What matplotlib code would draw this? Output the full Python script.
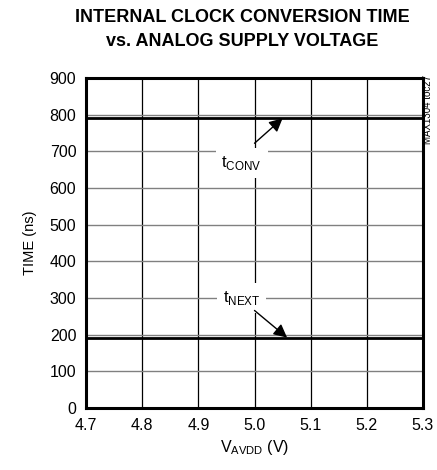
import numpy as np
import matplotlib
matplotlib.use('Agg')
import matplotlib.pyplot as plt

plt.rcParams['font.family'] = ['Liberation Sans Narrow', 'Liberation Sans', 'DejaVu Sans']

# data
vavdd = [4.7, 4.8, 4.9, 5.0, 5.1, 5.2, 5.3]
t_conv = [792, 792, 792, 792, 792, 792, 792]
t_next = [191, 191, 191, 191, 191, 191, 191]
x_ticks = [4.7, 4.8, 4.9, 5.0, 5.1, 5.2, 5.3]
y_ticks = [0, 100, 200, 300, 400, 500, 600, 700, 800, 900]

fig = plt.figure(figsize=(4.37, 4.70), dpi=100)
ax = fig.add_axes([86 / 437, 62 / 470, 337 / 437, 330 / 470])

ax.set_xlim(4.7, 5.3)
ax.set_ylim(0, 900)
ax.set_xticks(x_ticks)
ax.set_xticklabels(['%.1f' % v for v in x_ticks])
ax.set_yticks(y_ticks)

# grid: vertical black, horizontal gray
for xv in x_ticks[1:-1]:
    ax.axvline(xv, color='black', lw=0.9, zorder=1)
for yv in y_ticks[1:-1]:
    ax.axhline(yv, color='#808080', lw=1.0, zorder=1)

ax.plot(vavdd, t_conv, color='black', lw=2.0, zorder=3)
ax.plot(vavdd, t_next, color='black', lw=2.0, zorder=3)

ax.tick_params(axis='both', length=0, labelsize=11.5, pad=7)
for s in ax.spines.values():
    s.set_linewidth(2.2)

ax.set_ylabel('TIME (ns)', fontsize=10.5, labelpad=9)
ax.set_xlabel('V$_{\\mathregular{AVDD}}$ (V)', fontsize=11.5, labelpad=4)

fig.text(0.555, 1 - 9 / 470, 'INTERNAL CLOCK CONVERSION TIME\nvs. ANALOG SUPPLY VOLTAGE',
         ha='center', va='top', fontsize=13, fontweight='bold', linespacing=1.55)

box = dict(boxstyle='square,pad=0.35', fc='white', ec='none')
arrow = dict(arrowstyle='-|>', color='black', lw=1.0, mutation_scale=20,
             shrinkA=0, shrinkB=0)

ax.text(4.977, 668, 't$_{\\mathregular{CONV}}$', ha='center', va='center',
        fontsize=12, zorder=5, bbox=box)
ax.annotate('', xy=(5.05, 790), xytext=(5.0, 722), arrowprops=arrow, zorder=6)

ax.text(4.977, 300, 't$_{\\mathregular{NEXT}}$', ha='center', va='center',
        fontsize=12, zorder=5, bbox=box)
ax.annotate('', xy=(5.058, 192), xytext=(5.0, 266), arrowprops=arrow, zorder=6)

fig.text(428 / 437, 1 - 75 / 470, 'MAX1304 toc27', rotation=90, ha='center', va='top',
         fontsize=7)

fig.savefig('out.png', dpi=100)
